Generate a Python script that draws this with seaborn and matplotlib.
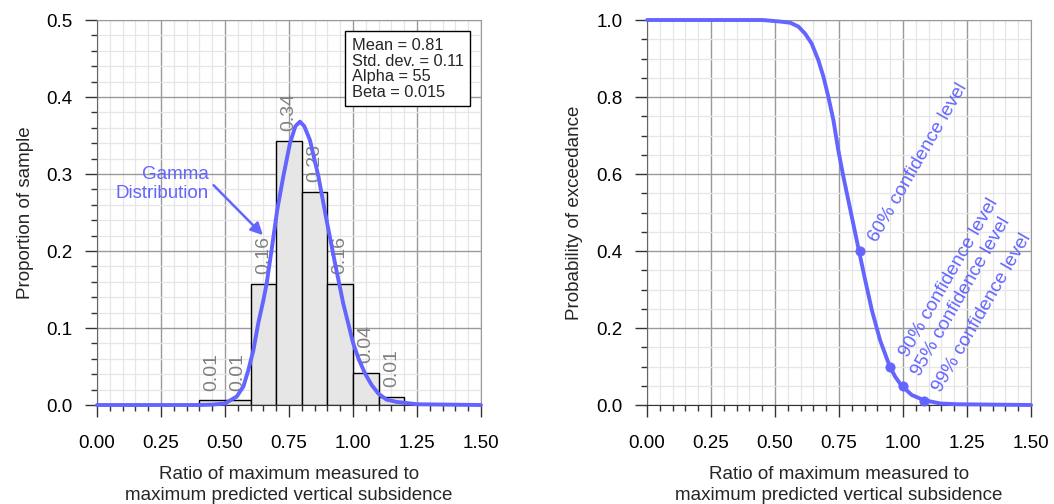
import numpy as np
import pandas as pd
import seaborn as sns
import matplotlib.pyplot as plt
from matplotlib.ticker import MultipleLocator

# histogram of ratios, bins of width 0.1
bin_edges = [0.4, 0.5, 0.6, 0.7, 0.8, 0.9, 1.0, 1.1, 1.2]
bin_centers = [0.45, 0.55, 0.65, 0.75, 0.85, 0.95, 1.05, 1.15]
proportion = [0.006, 0.006, 0.157, 0.343, 0.277, 0.157, 0.042, 0.011]

# fitted gamma curve
gamma_x = [0.0, 0.40, 0.45, 0.50, 0.546, 0.572, 0.591, 0.611, 0.630, 0.650, 0.663,
           0.682, 0.704, 0.728, 0.754, 0.775, 0.793, 0.810, 0.832, 0.865, 0.897,
           0.930, 0.962, 1.001, 1.021, 1.047, 1.073, 1.099, 1.131, 1.171, 1.25, 1.5]
gamma_y = [0.0, 0.0, 0.0005, 0.002, 0.011, 0.024, 0.045, 0.071, 0.106, 0.136, 0.158,
           0.201, 0.253, 0.297, 0.340, 0.362, 0.368, 0.362, 0.344, 0.297, 0.240,
           0.184, 0.132, 0.080, 0.061, 0.041, 0.026, 0.015, 0.007, 0.004, 0.001, 0.0]

# probability of exceedance curve
exc_x = [0.0, 0.45, 0.520, 0.559, 0.591, 0.617, 0.643, 0.669, 0.689, 0.708, 0.728,
         0.747, 0.767, 0.790, 0.828, 0.852, 0.878, 0.910, 0.947, 0.969, 0.992,
         1.034, 1.08, 1.145, 1.21, 1.5]
exc_y = [1.0, 1.0, 0.996, 0.993, 0.983, 0.965, 0.939, 0.896, 0.853, 0.801, 0.740,
         0.662, 0.593, 0.520, 0.400, 0.325, 0.247, 0.169, 0.102, 0.074, 0.052,
         0.026, 0.013, 0.004, 0.002, 0.0]

conf_x = [0.83, 0.95, 1.00, 1.08]
conf_y = [0.40, 0.10, 0.05, 0.01]
conf_labels = ["60% confidence level", "90% confidence level",
               "95% confidence level", "99% confidence level"]

stats_lines = ["Mean = 0.81", "Std. dev. = 0.11", "Alpha = 55", "Beta = 0.015"]

xlabel = "Ratio of maximum measured to\nmaximum predicted vertical subsidence"
blue = "#6464ff"
fs = 13.5

sns.set_style("white")
plt.rcParams['font.family'] = ['Liberation Sans', 'DejaVu Sans']


def style_axes(ax, ymax, ymajor, yminor):
    ax.set_xlim(0, 1.5)
    ax.set_ylim(0, ymax)
    ax.xaxis.set_major_locator(MultipleLocator(0.25))
    ax.xaxis.set_minor_locator(MultipleLocator(0.05))
    ax.yaxis.set_major_locator(MultipleLocator(ymajor))
    ax.yaxis.set_minor_locator(MultipleLocator(yminor))
    ax.xaxis.set_major_formatter('{x:.2f}')
    ax.yaxis.set_major_formatter('{x:.1f}')
    ax.grid(which='major', color='#9a9a9a', lw=1.0)
    ax.grid(which='minor', color='#e6e6e6', lw=0.9)
    ax.set_axisbelow(True)
    ax.tick_params(which='major', direction='out', length=8.5, width=1,
                   color='#333333', labelsize=fs, labelcolor='black')
    ax.tick_params(axis='y', which='major', pad=9)
    ax.tick_params(axis='x', which='major', pad=13)
    ax.tick_params(which='minor', direction='out', length=4, width=1, color='#333333')
    ax.tick_params(bottom=True, left=True, which='both')
    for s in ['top', 'right']:
        ax.spines[s].set_color('#9a9a9a')
    ax.spines['left'].set_color('#666666')
    ax.spines['bottom'].set_color('#333333')
    ax.set_xlabel(xlabel, fontsize=fs, labelpad=10, linespacing=1.3)


fig = plt.figure(figsize=(10.54, 5.04), dpi=100)
ax1 = fig.add_axes([0.092, 0.1964, 0.3643, 0.7639])
ax2 = fig.add_axes([0.6139, 0.1964, 0.3643, 0.7639])

# ---- left panel: histogram + gamma fit
hist_df = pd.DataFrame({"center": bin_centers, "prop": proportion})
sns.histplot(data=hist_df, x="center", weights="prop", bins=bin_edges, stat="count",
             color="#e6e6e6", edgecolor="black", linewidth=1, alpha=1, ax=ax1)
gamma_df = pd.DataFrame({"x": gamma_x, "y": gamma_y})
sns.lineplot(data=gamma_df, x="x", y="y", sort=False, color=blue, lw=2.8, ax=ax1,
             clip_on=False, zorder=5)
style_axes(ax1, 0.5, 0.1, 0.02)
ax1.set_ylabel("Proportion of sample", fontsize=fs, labelpad=9)

for c, p in zip(bin_centers, proportion):
    ax1.annotate(f"{p:.2f}", xy=(c, p), xytext=(0, 7), textcoords="offset points",
                 rotation=90, ha="center", va="bottom", fontsize=14, color="#808080",
                 zorder=4)

ax1.text(0.4375, 0.310, "Gamma\nDistribution", ha="right", va="top", fontsize=13.5,
         color=blue, multialignment="right", linespacing=1.15)
ax1.annotate("", xy=(0.656, 0.218), xytext=(0.448, 0.288),
             arrowprops=dict(arrowstyle="-|>", color=blue, lw=1.8, mutation_scale=18))

ax1.text(0.9945, 0.4766, "\n".join(stats_lines), ha="left", va="top", fontsize=11.8,
         linespacing=1.05, zorder=6,
         bbox=dict(boxstyle="square,pad=0.4", facecolor="white", edgecolor="black", lw=1))

# ---- right panel: probability of exceedance
exc_df = pd.DataFrame({"x": exc_x, "y": exc_y})
sns.lineplot(data=exc_df, x="x", y="y", sort=False, color=blue, lw=2.8, ax=ax2,
             clip_on=False, zorder=5)
sns.scatterplot(x=conf_x, y=conf_y, color=blue, s=45, edgecolor=blue, ax=ax2,
                zorder=6, clip_on=False)
style_axes(ax2, 1.0, 0.2, 0.05)
ax2.set_ylabel("Probability of exceedance", fontsize=fs, labelpad=10)

for x, y, lab in zip(conf_x, conf_y, conf_labels):
    ax2.annotate(lab, xy=(x, y), xytext=(12.5, 6), textcoords="offset points",
                 rotation=60, rotation_mode="anchor", ha="left", va="baseline",
                 fontsize=13.8, color=blue)

fig.savefig("out.png", dpi=100)
